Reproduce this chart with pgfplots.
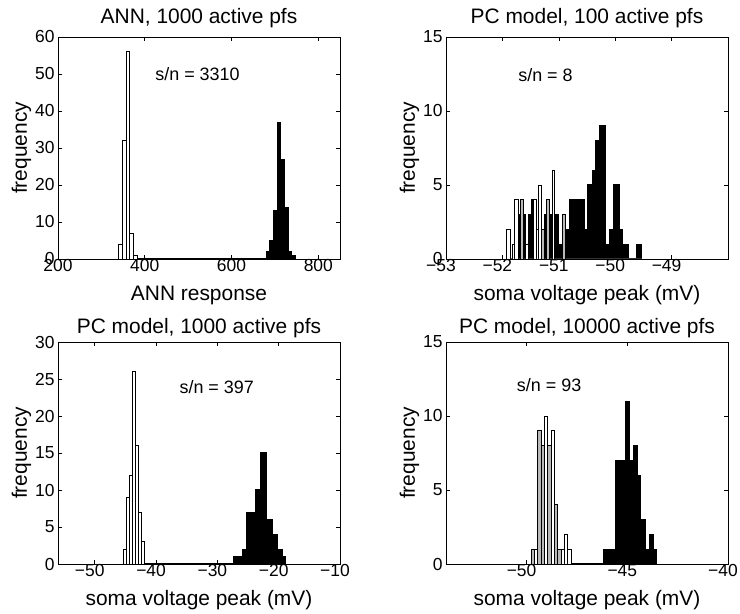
\documentclass[border=0pt]{standalone}
\usepackage{fontspec}
\setmainfont{Liberation Sans}
\usepackage{pgfplots}
\pgfplotsset{compat=1.18}
\usepackage{pgfplotstable}

\tikzset{sn/.style={font=\fontsize{18}{18}\selectfont, anchor=center}}
\pgfplotsset{
  mystyle/.style={
    scale only axis, width=282bp, height=222bp,
    clip=false,
    axis line style={black, line width=0.6bp},
    tick style={black, line width=0.6bp},
    major tick length=4bp,
    tick align=inside,
    ticklabel style={font=\fontsize{17.5}{17.5}\selectfont},
    xticklabel style={yshift=3bp},
    /pgf/number format/assume math mode=true,
    every axis x label/.style={at={(axis description cs:0.5,-0.1865)}, anchor=base, font=\fontsize{21}{21}\selectfont},
    every axis y label/.style={at={(axis description cs:-0.11,0.5)}, rotate=90, anchor=base, font=\fontsize{21}{21}\selectfont},
    ylabel={frequency},
    x tick label as interval=false,
  },
  negx/.style={xticklabel style={xshift=-5bp}},
  toptitle/.style={every axis title/.style={at={(axis description cs:0.5,1.063)}, anchor=base, font=\fontsize{21}{21}\selectfont}},
  bottitle/.style={every axis title/.style={at={(axis description cs:0.5,1.0405)}, anchor=base, font=\fontsize{21}{21}\selectfont}},
  whitebar/.style={ybar interval, fill=white, draw=black, line width=0.7bp},
  graybar/.style={ybar interval, fill=gray!55, draw=black, line width=0.7bp},
  blackbar/.style={ybar interval, fill=black, draw=black, line width=1bp},
  zeroline/.style={black, line width=2bp, no markers},
}

% Panel 1: ANN
\pgfplotstableread{
x y
339.75 4
348.25 32
356.75 56
365.25 7
373.75 1
382.25 0
}\annW
\pgfplotstableread{
x y
679.75 2
688.25 5
696.75 13
705.25 37
713.75 27
722.25 14
730.75 2
739.25 1
747.75 0
}\annB

% Panel 2: PC 100
\pgfplotstableread{
x b w g
-51.924 0 2 0
-51.853 0 0 0
-51.83 0 1 0
-51.78 0 4 0
-51.71 3 0 0
-51.688 0 0 4
-51.63 3 0 0
-51.594 0 1 0
-51.546 3 0 0
-51.49 4 0 0
-51.45 0 4 0
-51.39 0 2 0
-51.357 0 5 0
-51.31 0 0 2
-51.26 3 0 0
-51.215 0 0 4
-51.168 3 0 0
-51.12 0 6 0
-51.073 3 0 0
-51.0 1 0 0
-50.93 0 0 3
-50.88 2 0 0
-50.81 4 0 0
-50.72 4 0 0
-50.64 4 0 0
-50.55 2 0 0
-50.49 5 0 0
-50.41 6 0 0
-50.35 8 0 0
-50.27 9 0 0
-50.18 1 0 0
-50.10 2 0 0
-50.03 5 0 0
-49.93 2 0 0
-49.87 1 0 0
-49.76 0 0 0
-49.62 1 0 0
-49.53 0 0 0
}\pcA

% Panel 3: PC 1000
\pgfplotstableread{
x y
-45.35 2
-44.85 9
-44.35 12
-43.85 26
-43.35 16
-42.85 7
-42.35 3
-41.85 0
}\pcBW
\pgfplotstableread{
x y
-27.40 1
-26.58 1
-25.87 2
-25.33 7
-24.57 7
-23.86 10
-22.94 15
-21.96 6
-20.98 4
-20.22 2
-19.35 1
-18.81 0
}\pcBB

% Panel 4: PC 10000
\pgfplotstableread{
x w g
-49.780 0 1
-49.614 1 0
-49.448 0 9
-49.282 0 8
-49.116 10 0
-48.950 0 8
-48.784 9 0
-48.618 0 4
-48.452 0 1
-48.286 1 0
-48.120 2 0
-47.954 1 0
-47.788 0 0
}\pcCW
\pgfplotstableread{
x y
-46.19 1
-46.00 1
-45.80 1
-45.61 7
-45.39 7
-45.11 11
-44.90 7
-44.70 8
-44.50 6
-44.33 3
-44.12 1
-43.90 2
-43.71 1
-43.54 0
}\pcCB

\begin{document}
\begin{tikzpicture}
\useasboundingbox (0,0) rectangle (740bp,614bp);

% Panel 1
\begin{axis}[mystyle, toptitle, at={(58bp,355bp)}, anchor=south west,
  xmin=200, xmax=850, ymin=0, ymax=60,
  xtick={200,400,600,800}, ytick={0,10,20,30,40,50,60},
  xlabel={ANN response}, title={ANN, 1000 active pfs}]
  \addplot[zeroline] coordinates {(339.75,0) (747.75,0)};
  \addplot[whitebar] table[x=x,y=y] {\annW};
  \addplot[blackbar] table[x=x,y=y] {\annB};
  \node[sn] at (axis cs:521.6,50.1) {s/n = 3310};
\end{axis}

% Panel 2
\begin{axis}[mystyle, negx, toptitle, at={(446bp,355bp)}, anchor=south west,
  xmin=-53, xmax=-48, ymin=0, ymax=15,
  xtick={-53,-52,-51,-50,-49}, xticklabels={−53,−52,−51,−50,−49},
  ytick={0,5,10,15},
  xlabel={soma voltage peak (mV)}, title={PC model, 100 active pfs}]
  \addplot[zeroline] coordinates {(-51.924,0) (-49.53,0)};
  \addplot[blackbar] table[x=x,y=b] {\pcA};
  \addplot[whitebar] table[x=x,y=w] {\pcA};
  \addplot[graybar] table[x=x,y=g] {\pcA};
  \node[sn] at (axis cs:-51.236,12.43) {s/n = 8};
\end{axis}

% Panel 3
\begin{axis}[mystyle, negx, bottitle, at={(58bp,50bp)}, anchor=south west,
  xmin=-56, xmax=-10, ymin=0, ymax=30,
  xtick={-50,-40,-30,-20,-10}, xticklabels={−50,−40,−30,−20,−10},
  ytick={0,5,10,15,20,25,30},
  xlabel={soma voltage peak (mV)}, title={PC model, 1000 active pfs}]
  \addplot[zeroline] coordinates {(-45.35,0) (-18.81,0)};
  \addplot[whitebar] table[x=x,y=y] {\pcBW};
  \addplot[blackbar] table[x=x,y=y] {\pcBB};
  \node[sn] at (axis cs:-30.11,23.85) {s/n = 397};
\end{axis}

% Panel 4
\begin{axis}[mystyle, negx, bottitle, at={(446bp,50bp)}, anchor=south west,
  xmin=-54, xmax=-40, ymin=0, ymax=15,
  xtick={-50,-45,-40}, xticklabels={−50,−45,−40},
  ytick={0,5,10,15},
  xlabel={soma voltage peak (mV)}, title={PC model, 10000 active pfs}]
  \addplot[zeroline] coordinates {(-49.78,0) (-43.54,0)};
  \addplot[whitebar] table[x=x,y=w] {\pcCW};
  \addplot[graybar] table[x=x,y=g] {\pcCW};
  \addplot[blackbar] table[x=x,y=y] {\pcCB};
  \node[sn] at (axis cs:-48.88,12.06) {s/n = 93};
\end{axis}
\end{tikzpicture}
\end{document}
